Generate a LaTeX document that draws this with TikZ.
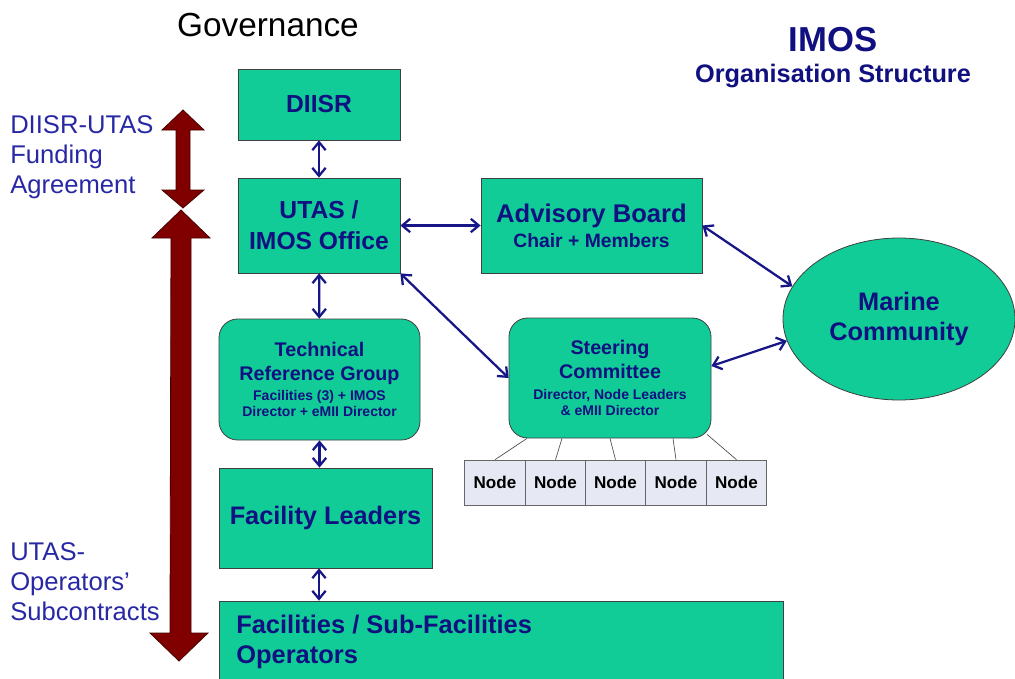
\documentclass[tikz,border=0pt]{standalone}
\usepackage{fontspec}
\setmainfont{Liberation Sans}
\usetikzlibrary{arrows.meta,calc,shapes.geometric}

\definecolor{boxfill}{RGB}{18,204,152}
\definecolor{navytext}{RGB}{16,16,128}
\definecolor{labelblue}{RGB}{40,40,165}
\definecolor{linkblue}{RGB}{22,22,135}
\definecolor{arrowred}{RGB}{128,0,0}
\definecolor{arrowedge}{RGB}{70,0,0}
\definecolor{nodefill}{RGB}{230,232,244}

\newcommand{\fsz}[2]{\fontsize{#1}{#2}\selectfont}

\begin{document}
\begin{tikzpicture}[x=0.75pt,y=-0.75pt,
  box/.style={draw=black!75, line width=0.6pt, fill=boxfill, text=navytext,
              font=\bfseries, align=center, inner sep=0pt},
  roundbox/.style={box, rounded corners=14pt},
  leafbox/.style={draw=black!60, line width=0.5pt, fill=nodefill, text=black,
                  font=\fsz{12.8}{15}\bfseries, minimum width=45.4pt,
                  minimum height=33.75pt, inner sep=0pt},
  conn/.style={draw=linkblue, line width=1.7pt,
               {Straight Barb[length=6pt,width=10pt]}-{Straight Barb[length=6pt,width=10pt]}},
  leafline/.style={draw=black!70, line width=0.5pt},
  sidelabel/.style={text=labelblue, align=left, font=\fsz{19.2}{22.5}, inner sep=0pt},
  bigarrow/.style={fill=arrowred, draw=arrowedge, line width=0.6pt}
]
\useasboundingbox (0,0) rectangle (1015,679);
\clip (0,0) rectangle (1015,679);
\fill[white] (0,0) rectangle (1015,679);

% titles
\node[font=\fsz{25}{29}, text=black] (gov) at (268,25) {Governance};
\node[font=\fsz{26}{30}\bfseries, text=navytext] (imos) at (833,40) {IMOS};
\node[font=\fsz{19}{22}\bfseries, text=navytext] (orgs) at (833,76) {Organisation Structure};

% side labels
\node[sidelabel, anchor=west] (fund) at (10,157) {DIISR-UTAS\\Funding\\Agreement};
\node[sidelabel, anchor=west] (subc) at (10,582) {UTAS-\\Operators’\\Subcontracts};

% large double arrows
\path[bigarrow] (183,110) -- (204,130) -- (190,130) -- (190,190) -- (204,190)
  -- (183,208) -- (162,190) -- (176,190) -- (176,130) -- (162,130) -- cycle;
\path[bigarrow] (181,210) -- (210,238) -- (191,238) -- (191,633) -- (208,633)
  -- (179,661) -- (150,633) -- (170,633) -- (171,238) -- (152,238) -- cycle;

% boxes
\node[box, minimum width=121.5pt, minimum height=53.25pt,
      font=\fsz{18.5}{22}\bfseries] (diisr) at (319,104.5) {DIISR};
\node[box, minimum width=121.5pt, minimum height=71.25pt,
      font=\fsz{18.5}{23.5}\bfseries] (utas) at (319,225.5) {UTAS /\\IMOS Office};
\node[box, minimum width=165.75pt, minimum height=71.25pt] (adv) at (591.5,225.5)
  {\fsz{19.2}{22}Advisory Board\\[3pt]\fsz{14.5}{17}Chair + Members};
\node[roundbox, minimum width=150.75pt, minimum height=90.75pt] (trg) at (319.5,379.5)
  {\fsz{14.8}{12}Technical\\[6pt]\fsz{14.8}{12}Reference Group\\[3pt]
   \fsz{10.5}{12}Facilities (3) + IMOS\\\fsz{10.5}{12}Director + eMII Director};
\node[roundbox, minimum width=151.5pt, minimum height=90pt] (sc) at (610,378)
  {\fsz{14.8}{12}Steering\\[3pt]\fsz{14.8}{12}Committee\\[3.75pt]
   \fsz{10.5}{12}Director, Node Leaders\\\fsz{10.5}{12}\& eMII Director};
\node[box, minimum width=159.75pt, minimum height=75pt,
      font=\fsz{19}{22}\bfseries] (fl) at (325.5,518) {Facility Leaders};
\node[box, minimum width=423pt, minimum height=66.75pt] (fac) at (501,645.5) {};
\node[anchor=west, align=left, text=navytext, inner sep=0pt,
      font=\fsz{19.1}{22.5}\bfseries] (factxt) at (236,642)
  {Facilities / Sub-Facilities\\Operators};

\node[ellipse, draw=black!75, line width=0.6pt, fill=boxfill, text=navytext,
      minimum width=174pt, minimum height=121.5pt, inner sep=0pt,
      align=center, font=\fsz{19}{23}\bfseries] (mc) at (899,319)
  {Marine\\Community};

% node row under the steering committee
\foreach \i/\cx in {1/495, 2/555.5, 3/615.5, 4/676, 5/736.5}
  \node[leafbox] (n\i) at (\cx,482.5) {Node};

\draw[leafline] ($(sc.south)+(-83,0)$) -- (n1.north);
\draw[leafline] ($(sc.south)+(-48,0)$) -- (n2.north);
\draw[leafline] (sc.south) -- (n3.north);
\draw[leafline] ($(sc.south)+(63,0)$) -- (n4.north);
\draw[leafline] ($(sc.south)+(97,-4)$) -- (n5.north);

% connectors
\draw[conn] (diisr) -- (utas);
\draw[conn] (utas) -- (trg);
\draw[conn] (trg.south) -- (trg.south |- fl.north);
\draw[conn] (fl.south -| utas.south) -- (fac.north -| utas.south);
\draw[conn] (utas) -- (adv);
\draw[conn] (utas.south east) -- (sc.west);
\draw[conn] (adv.east) -- (mc.163);
\draw[conn] ($(sc.east)+(0,-12)$) -- (mc.191);
\end{tikzpicture}
\end{document}
